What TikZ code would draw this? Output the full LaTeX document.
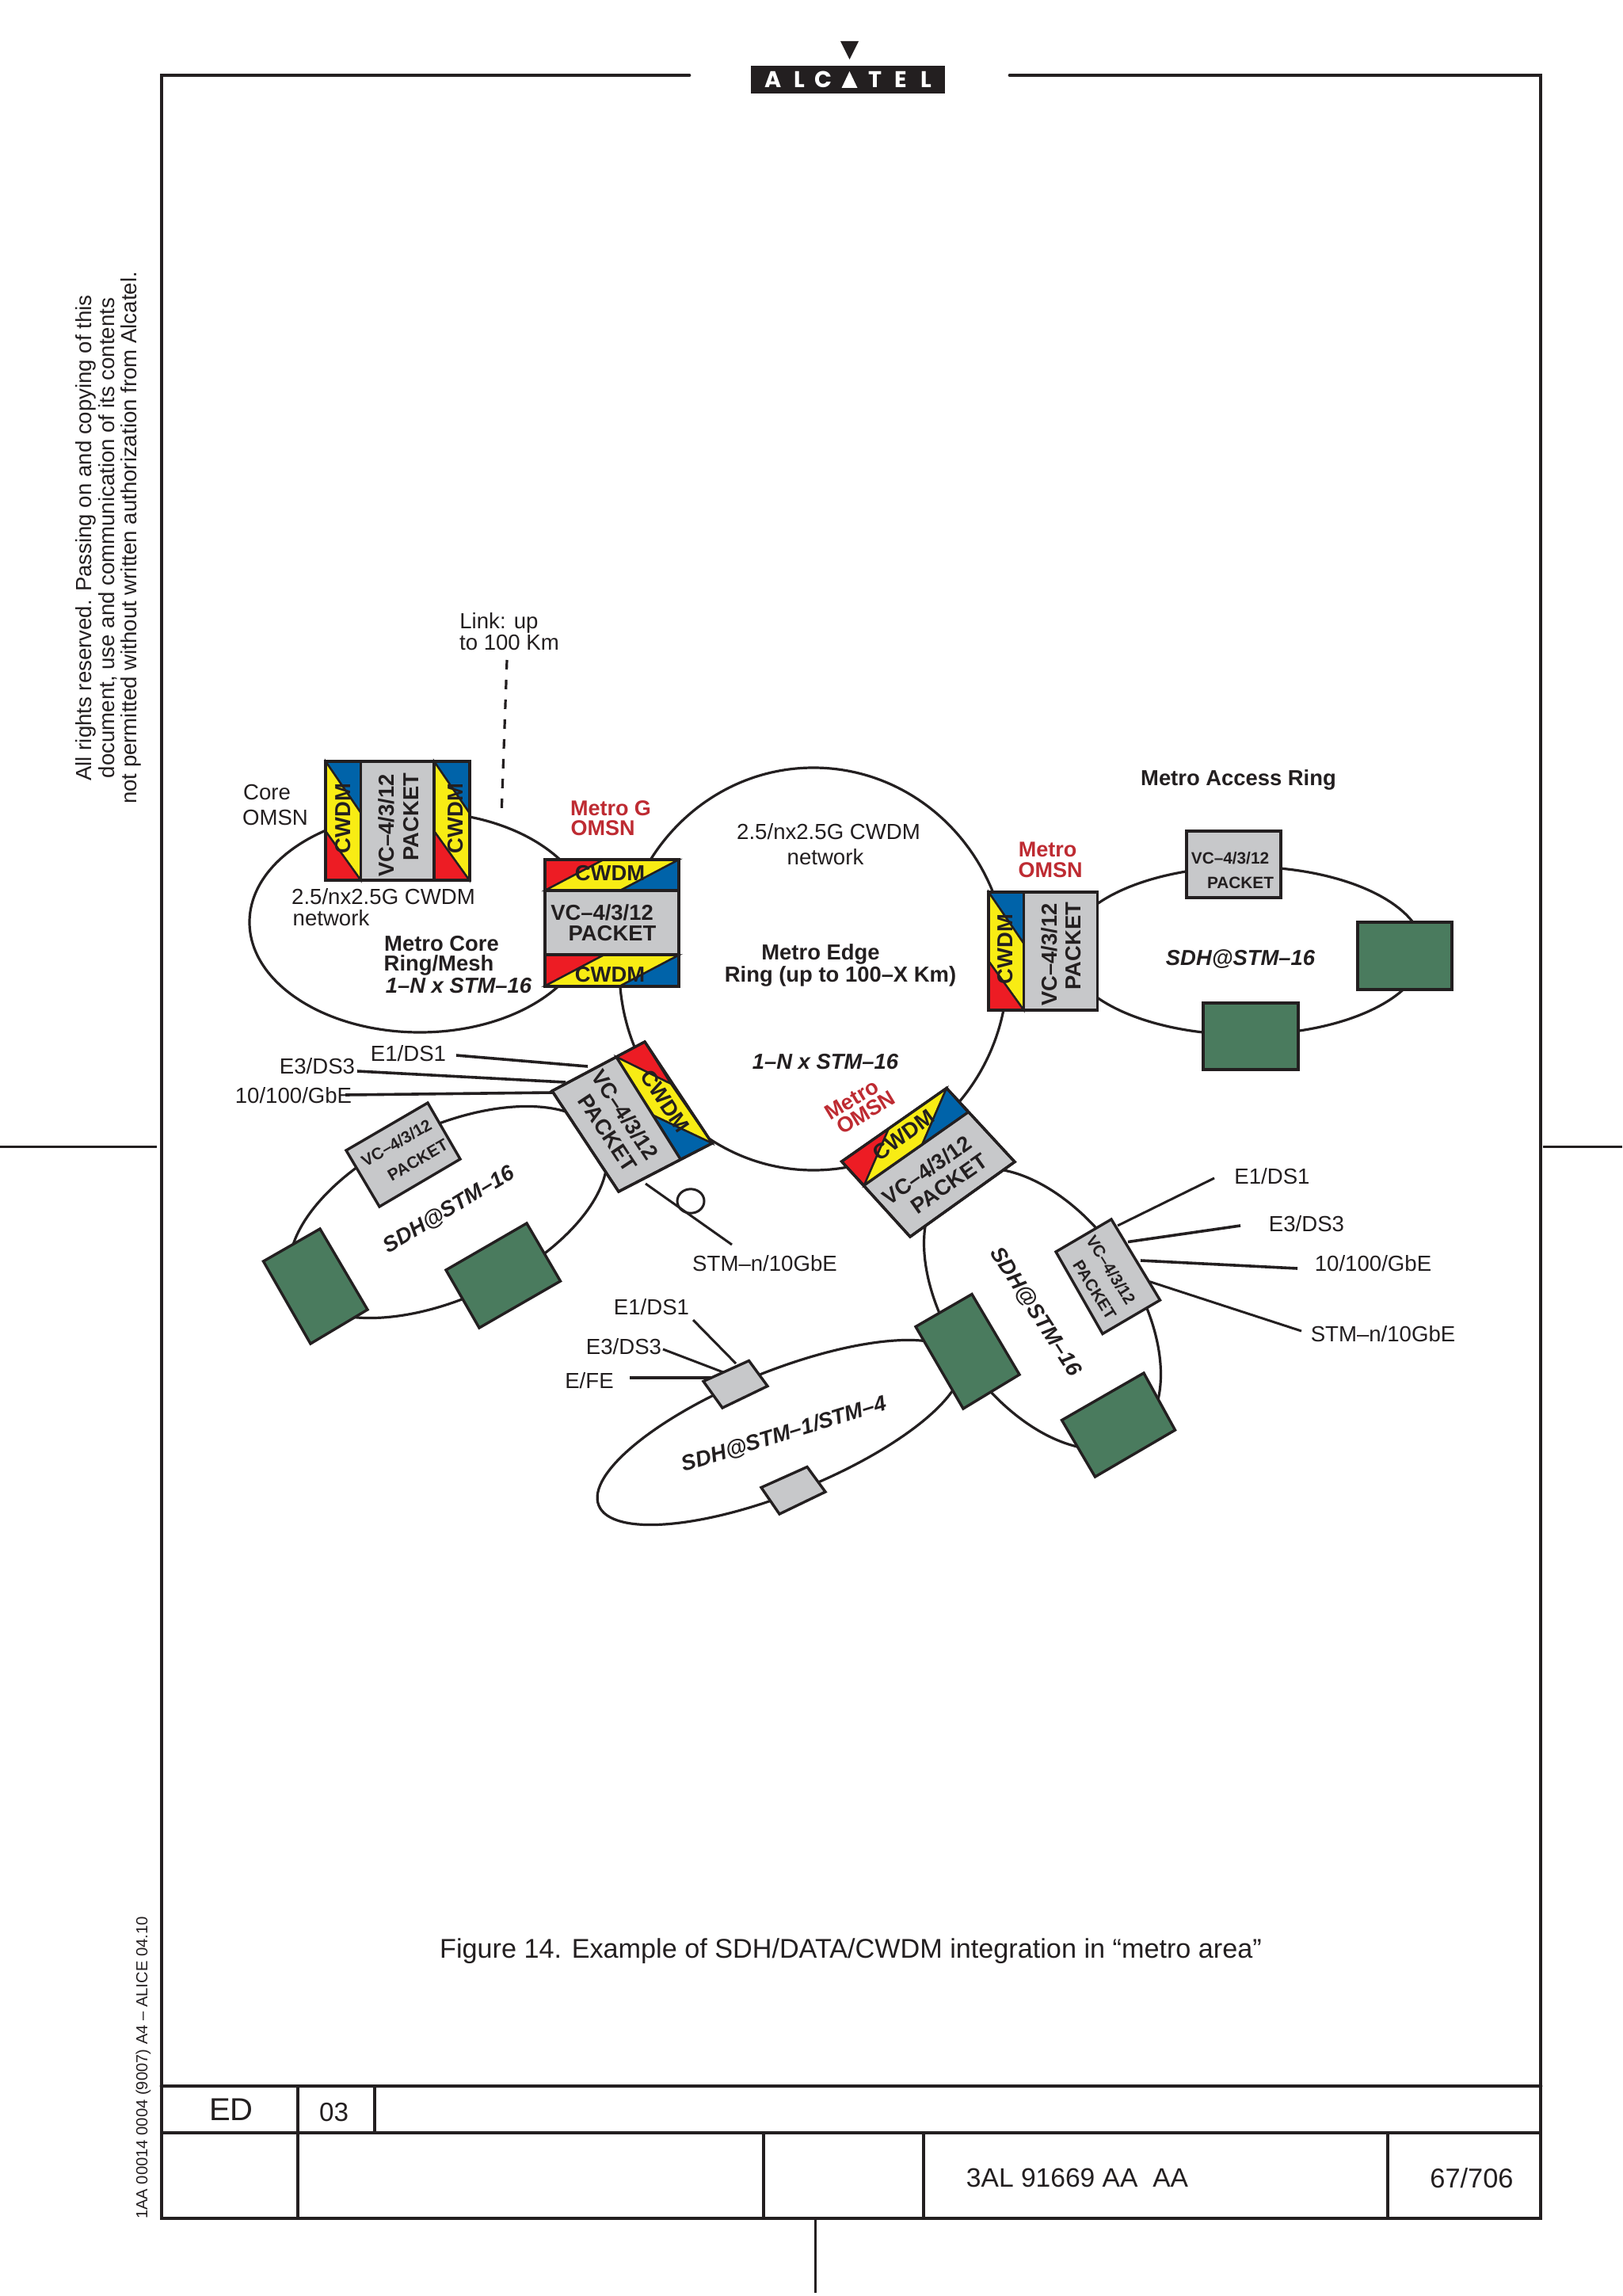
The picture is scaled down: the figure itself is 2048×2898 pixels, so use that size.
\documentclass[tikz,border=0pt]{standalone}
\usepackage{fontspec}
\setmainfont{Liberation Sans}
\newfontfamily\logofont{Poppins}
\usetikzlibrary{shapes.geometric}
\definecolor{ink}{HTML}{231F20}
\definecolor{bluec}{HTML}{0063A9}
\definecolor{redc}{HTML}{ED1C24}
\definecolor{yellowc}{HTML}{F8EC14}
\definecolor{grayc}{HTML}{C7C8CA}
\definecolor{greenc}{HTML}{4A7B5E}
\definecolor{labelred}{HTML}{BE2B32}
\newcommand{\fs}[1]{\fontsize{#1}{#1}\selectfont}
\tikzset{
  x=0.25pt,y=-0.25pt,
  every node/.style={inner sep=0pt,outer sep=0pt,text=ink},
  ringshape/.style={draw=ink,line width=0.8pt,ellipse,fill=none},
  frameheavy/.style={draw=ink,line width=1.2pt,line cap=round},
  framelight/.style={draw=ink,line width=0.8pt},
  wire/.style={draw=ink,line width=0.75pt},
  wireheavy/.style={draw=ink,line width=0.9pt},
  dashline/.style={draw=ink,line width=0.8pt,dash pattern=on 3pt off 3.25pt},
  grayb/.style={draw=ink,fill=grayc,line width=0.85pt,line join=miter},
  greenb/.style={draw=ink,fill=greenc,line width=0.85pt,line join=miter},
  bluef/.style={draw=ink,fill=bluec,line width=0.6pt,line join=miter},
  redf/.style={draw=ink,fill=redc,line width=0.6pt,line join=miter},
  yellowf/.style={draw=ink,fill=yellowc,line width=0.6pt,line join=miter},
  outline/.style={draw=ink,fill=none,line width=0.85pt,line join=miter},
  plain/.style={font=\fs{6.9}},
  bold/.style={font=\fs{6.85}\bfseries},
  boldit/.style={font=\fs{6.85}\bfseries\itshape},
  redlabel/.style={font=\fs{6.75}\bfseries,text=labelred},
  small/.style={font=\fs{5.2}\bfseries},
  margin/.style={font=\fs{6.9},rotate=90},
}
\begin{document}
\begin{tikzpicture}
\useasboundingbox (0,0) rectangle (2048,2898);
\fill[white] (0,0) rectangle (2048,2898);

% ---------- page frame
\draw[frameheavy] (870,95) -- (204,95) -- (204,2800) -- (1945,2800) -- (1945,95) -- (1275,95);
\draw[frameheavy] (204,2633) -- (1945,2633);
\draw[framelight] (204,2692) -- (1945,2692);
\draw[framelight] (376,2633) -- (376,2800);
\draw[framelight] (473,2633) -- (473,2692);
\draw[framelight] (964,2692) -- (964,2800);
\draw[framelight] (1166,2692) -- (1166,2800);
\draw[framelight] (1752,2692) -- (1752,2800);
\draw[wire] (1029,2800) -- (1029,2894);
\draw[wire] (0,1447) -- (198,1447);
\draw[wire] (1948,1447) -- (2048,1447);

% ---------- logo
\fill[ink] (948,83) rectangle (1193,118);
\fill[ink] (1061,52) -- (1084,52) -- (1072.5,75) -- cycle;
\fill[white] (1072.5,90) -- (1082.5,111) -- (1062.5,111) -- cycle;
\foreach \ch/\xx/\nm in {A/976/la,L/1009/lb,C/1039/lc,T/1105/ld,E/1137/le,L/1169/lf}
  \node[text=white,font=\logofont\fs{7.2}\bfseries] (\nm) at (\xx,100.5) {\ch};

% ---------- margin texts
\node[margin] (copy1) at (108,679) {All rights reserved. Passing on and copying of this};
\node[margin] (copy2) at (136,679) {document, use and communication of its contents};
\node[margin] (copy3) at (165,679) {not permitted without written authorization from Alcatel.};
\node[font=\fs{5.05},rotate=90] (code) at (181,2610) {1AA 00014 0004 (9007) A4 -- ALICE 04.10};

% ---------- rings
\node[ringshape,minimum width=107.5pt,minimum height=69.5pt] (coreRing) at (530,1164) {};
\node[ringshape,minimum width=122.5pt,minimum height=127pt] (edgeRing) at (1027,1223) {};
\node[ringshape,minimum width=112.5pt,minimum height=53pt] (accessRing) at (1572,1200) {};
\node[ringshape,minimum width=107.5pt,minimum height=54pt,rotate=25] (westRing) at (566,1530) {};
\node[ringshape,minimum width=100pt,minimum height=58.5pt,rotate=-55] (southRing) at (1316,1652) {};
\node[ringshape,minimum width=123pt,minimum height=38.5pt,rotate=22] (lowRing) at (984,1808) {};

% ---------- wires
\coordinate (wa1) at (640,833); \coordinate (wa2) at (633,1031);
\draw[dashline] (wa1) -- (wa2);
\coordinate (wb1) at (576,1332); \coordinate (wb2) at (742,1346);
\draw[wireheavy] (wb1) -- (wb2);
\coordinate (wc1) at (451,1352); \coordinate (wc2) at (714,1366);
\draw[wireheavy] (wc1) -- (wc2);
\coordinate (wd1) at (436,1382); \coordinate (wd2) at (697,1379);
\draw[wireheavy] (wd1) -- (wd2);
\coordinate (we1) at (815,1494); \coordinate (we2) at (924,1571);
\draw[wire] (we1) -- (we2);
\node[draw=ink,line width=0.75pt,ellipse,minimum width=8.5pt,minimum height=7.6pt] (stmLoop) at (872,1516) {};
\coordinate (wf1) at (1411,1547); \coordinate (wf2) at (1533,1487);
\draw[wire] (wf1) -- (wf2);
\coordinate (wg1) at (1424,1567.5); \coordinate (wg2) at (1566,1547);
\draw[wireheavy] (wg1) -- (wg2);
\coordinate (wh1) at (1440,1591); \coordinate (wh2) at (1638,1601);
\draw[wireheavy] (wh1) -- (wh2);
\coordinate (wi1) at (1451,1617.5); \coordinate (wi2) at (1643,1680);
\draw[wire] (wi1) -- (wi2);
\coordinate (wj1) at (875,1666); \coordinate (wj2) at (929,1721);
\draw[wire] (wj1) -- (wj2);
\coordinate (wk1) at (837,1703); \coordinate (wk2) at (913,1732);
\draw[wire] (wk1) -- (wk2);
\coordinate (wl1) at (795,1739); \coordinate (wl2) at (898,1739);
\draw[wireheavy] (wl1) -- (wl2);

% ---------- Core OMSN
\filldraw[grayb] (411,961) rectangle (593,1111);
\foreach \dx in {0,137}{
  \filldraw[bluef] (411+\dx,961) -- (455.5+\dx,961) -- (455.5+\dx,1026) -- cycle;
  \filldraw[yellowf] (411+\dx,961) -- (455.5+\dx,1026) -- (455.5+\dx,1111) -- (411+\dx,1049) -- cycle;
  \filldraw[redf] (411+\dx,1049) -- (455.5+\dx,1111) -- (411+\dx,1111) -- cycle;
}
\draw[outline] (411,961) rectangle (593,1111);
\draw[outline] (455.5,961) -- (455.5,1111) (548,961) -- (548,1111);
\node[bold,rotate=90] (coreA) at (433,1033) {CWDM};
\node[bold,rotate=90] (coreB) at (575,1033) {CWDM};
\node[bold,rotate=90] (coreC) at (488,1042) {VC--4/3/12};
\node[bold,rotate=90] (coreD) at (519,1031) {PACKET};

% ---------- Metro G OMSN
\filldraw[grayb] (688,1085) rectangle (857,1245);
\foreach \dy in {0,120.5}{
  \filldraw[redf] (688,1085+\dy) -- (762,1085+\dy) -- (688,1124+\dy) -- cycle;
  \filldraw[yellowf] (688,1124+\dy) -- (762,1085+\dy) -- (857,1085+\dy) -- (783,1124+\dy) -- cycle;
  \filldraw[bluef] (857,1085+\dy) -- (857,1124+\dy) -- (783,1124+\dy) -- cycle;
}
\draw[outline] (688,1085) rectangle (857,1245);
\draw[outline] (688,1124) -- (857,1124) (688,1205) -- (857,1205);
\node[bold] (gA) at (770,1102.5) {CWDM};
\node[bold] (gB) at (770,1230) {CWDM};
\node[bold] (gC) at (760,1152) {VC--4/3/12};
\node[bold] (gD) at (773,1178) {PACKET};

% ---------- Metro OMSN east
\filldraw[grayb] (1248,1126) rectangle (1385.5,1275);
\filldraw[bluef] (1248,1126) -- (1292.5,1126) -- (1292.5,1191) -- cycle;
\filldraw[yellowf] (1248,1126) -- (1292.5,1191) -- (1292.5,1275) -- (1248,1213) -- cycle;
\filldraw[redf] (1248,1213) -- (1292.5,1275) -- (1248,1275) -- cycle;
\draw[outline] (1248,1126) rectangle (1385.5,1275);
\draw[outline] (1292.5,1126) -- (1292.5,1275);
\node[bold,rotate=90] (eA) at (1269,1198) {CWDM};
\node[bold,rotate=90] (eB) at (1325,1205) {VC--4/3/12};
\node[bold,rotate=90] (eC) at (1355,1194) {PACKET};

% ---------- Metro Access ring boxes
\filldraw[grayb] (1498,1049) rectangle (1617,1133);
\node[small] (acA) at (1553,1083) {VC--4/3/12};
\node[small] (acB) at (1566,1114) {PACKET};
\filldraw[greenb] (1714,1164) rectangle (1833,1249);
\filldraw[greenb] (1519,1266) rectangle (1639,1350);

% ---------- West OMSN (rotated)
\filldraw[grayb] (814,1315) -- (899,1443) -- (781,1504) -- (697,1377) -- cycle;
\filldraw[redf] (778,1334) -- (814,1315) -- (847,1368) -- cycle;
\filldraw[yellowf] (778,1334) -- (847,1368) -- (899,1443) -- (825,1408) -- cycle;
\filldraw[bluef] (825,1408) -- (899,1443) -- (859,1463) -- cycle;
\draw[outline] (814,1315) -- (899,1443) -- (781,1504) -- (697,1377) -- cycle;
\draw[outline] (778,1334) -- (859,1463);
\node[bold,rotate=-56.5] (wA) at (840,1390) {CWDM};
\node[bold,rotate=-56.5] (wB) at (789,1407) {VC--4/3/12};
\node[bold,rotate=-56.5] (wC) at (767,1430) {PACKET};

% ---------- South OMSN (rotated)
\filldraw[grayb] (1195,1373.5) -- (1281,1466.5) -- (1149,1561) -- (1062.7,1466) -- cycle;
\filldraw[redf] (1062.7,1466) -- (1122,1424.5) -- (1091,1496) -- cycle;
\filldraw[yellowf] (1091,1496) -- (1122,1424.5) -- (1195,1373.5) -- (1164,1445) -- cycle;
\filldraw[bluef] (1195,1373.5) -- (1222,1404) -- (1164,1445) -- cycle;
\draw[outline] (1195,1373.5) -- (1281,1466.5) -- (1149,1561) -- (1062.7,1466) -- cycle;
\draw[outline] (1222,1404) -- (1091,1496);
\node[bold,rotate=36] (sA) at (1140.5,1432.5) {CWDM};
\node[bold,rotate=35] (sB) at (1170,1477) {VC--4/3/12};
\node[bold,rotate=35] (sC) at (1198,1494) {PACKET};

% ---------- West ring boxes
\filldraw[grayb] (540,1392) -- (581,1463) -- (479,1523) -- (437,1452) -- cycle;
\node[small,rotate=30] (wrA) at (500.5,1442.5) {VC--4/3/12};
\node[small,rotate=30] (wrB) at (527.5,1464) {PACKET};
\filldraw[greenb] (404,1551) -- (464,1653) -- (392,1696) -- (332.5,1592) -- cycle;
\filldraw[greenb] (665,1544) -- (707.5,1617) -- (605,1676) -- (563,1603) -- cycle;

% ---------- South ring boxes
\filldraw[grayb] (1403,1539) -- (1464.5,1641) -- (1392,1683.5) -- (1333,1580) -- cycle;
\node[small,rotate=-58] (srA) at (1402.5,1603) {VC--4/3/12};
\node[small,rotate=-58] (srB) at (1382,1628) {PACKET};
\filldraw[greenb] (1227,1633.5) -- (1287,1735) -- (1216,1778) -- (1156,1674.5) -- cycle;
\filldraw[greenb] (1444,1733) -- (1483.5,1805) -- (1382.5,1864) -- (1340.5,1792.5) -- cycle;

% ---------- Low ring boxes
\filldraw[grayb] (945.5,1717.5) -- (969,1749.5) -- (912,1777) -- (888,1743.5) -- cycle;
\filldraw[grayb] (1019,1851.5) -- (1042,1883) -- (984,1911) -- (961,1877.5) -- cycle;

% ---------- labels
\node[plain] (linkA) at (630,786) {Link: up};
\node[plain] (linkB) at (643,811) {to 100 Km};
\node[plain] (coreL1) at (337,1000) {Core};
\node[plain] (coreL2) at (347.5,1032) {OMSN};
\node[plain] (coreN1) at (484,1132) {2.5/nx2.5G CWDM};
\node[plain] (coreN2) at (418,1158.5) {network};
\node[bold] (coreT1) at (557.5,1191.5) {Metro Core};
\node[bold] (coreT2) at (554,1218) {Ring/Mesh};
\node[boldit] (coreT3) at (579,1244) {1--N x STM--16};
\node[redlabel] (gL1) at (771,1020) {Metro G};
\node[redlabel] (gL2) at (761,1045) {OMSN};
\node[plain] (edN1) at (1046,1050) {2.5/nx2.5G CWDM};
\node[plain] (edN2) at (1042,1082) {network};
\node[bold] (edT1) at (1036,1204) {Metro Edge};
\node[bold] (edT2) at (1061,1232) {Ring (up to 100--X Km)};
\node[boldit] (edT3) at (1042,1340) {1--N x STM--16};
\node[redlabel] (eL1) at (1322.5,1072) {Metro};
\node[redlabel] (eL2) at (1326,1098) {OMSN};
\node[bold] (acT) at (1563.5,984) {Metro Access Ring};
\node[boldit] (acS) at (1566,1211) {SDH@STM--16};
\node[redlabel,rotate=31] (sL1) at (1075,1388) {Metro};
\node[redlabel,rotate=31] (sL2) at (1093,1404) {OMSN};
\node[plain] (wL1) at (515.5,1330) {E1/DS1};
\node[plain] (wL2) at (400.5,1346) {E3/DS3};
\node[plain] (wL3) at (370.5,1383) {10/100/GbE};
\node[boldit,rotate=31] (wrS) at (567,1527) {SDH@STM--16};
\node[plain] (wL4) at (965.5,1594.5) {STM--n/10GbE};
\node[boldit,rotate=-57] (srS) at (1307.5,1656) {SDH@STM--16};
\node[plain] (sL3) at (1606,1485) {E1/DS1};
\node[plain] (sL4) at (1649.5,1545) {E3/DS3};
\node[plain] (sL5) at (1733.5,1595) {10/100/GbE};
\node[plain] (sL6) at (1746,1684) {STM--n/10GbE};
\node[plain] (lL1) at (822.5,1650) {E1/DS1};
\node[plain] (lL2) at (787.5,1700) {E3/DS3};
\node[plain] (lL3) at (744,1743) {E/FE};
\node[boldit,rotate=17] (lowS) at (990,1810.5) {SDH@STM--1/STM--4};

% ---------- caption and title block
\node[font=\fs{8.55}] (caption) at (1074,2463) {Figure 14. Example of SDH/DATA/CWDM integration in “metro area”};
\node[font=\fs{10}] (ed) at (292,2663) {ED};
\node[font=\fs{8.3}] (rev) at (421.5,2666) {03};
\node[font=\fs{8.4}] (docno) at (1360,2749) {3AL 91669 AA\ \ AA};
\node[font=\fs{8.6}] (page) at (1858,2749) {67/706};
\end{tikzpicture}
\end{document}
